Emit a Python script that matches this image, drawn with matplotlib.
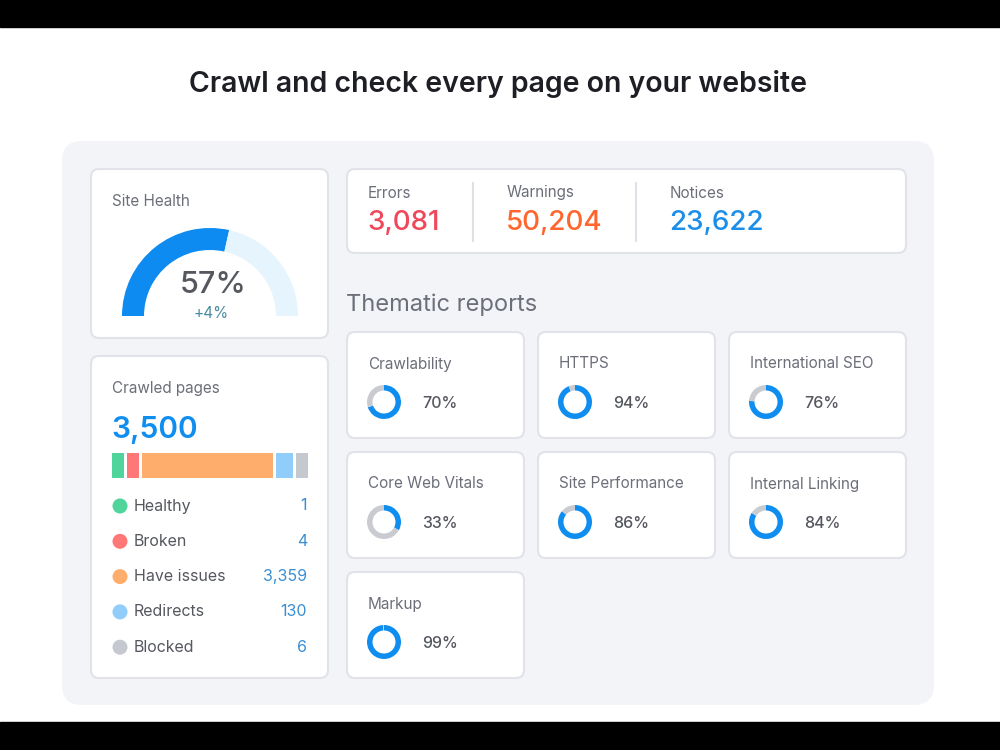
import matplotlib
matplotlib.use('Agg')
import matplotlib.pyplot as plt
from matplotlib.patches import FancyBboxPatch, Wedge, Rectangle, Circle
import numpy as np

plt.rcParams['font.family'] = ['Inter', 'DejaVu Sans']

# data
title = 'Crawl and check every page on your website'
site_health = 57
health_change = '+4%'
issue_labels = ['Errors', 'Warnings', 'Notices']
issue_values = [3081, 50204, 23622]
crawled_total = 3500
page_labels = ['Healthy', 'Broken', 'Have issues', 'Redirects', 'Blocked']
page_values = [1, 4, 3359, 130, 6]
report_names = ['Crawlability', 'HTTPS', 'International SEO',
                'Core Web Vitals', 'Site Performance', 'Internal Linking',
                'Markup']
report_scores = [70, 94, 76, 33, 86, 84, 99]

# styles
issue_colors = ['#f0475a', '#ff662e', '#1a8ee9']
page_colors = ['#4fd49b', '#ff7878', '#ffad6c', '#90cdfb', '#c6c8d0']
BLUE = '#0f8ef0'
TXT = '#6c6f79'
DARK = '#55585f'
BORDER = '#e1e3e9'

fig = plt.figure(figsize=(10, 7.5), dpi=100)
ax = fig.add_axes([0, 0, 1, 1])
ax.set_xlim(0, 1000)
ax.set_ylim(750, 0)
ax.axis('off')

# black bands and white page
ax.add_patch(Rectangle((0, 0), 1000, 27, color='black'))
ax.add_patch(Rectangle((0, 722), 1000, 28, color='black'))

ax.text(498, 84, title, ha='center', va='center', fontsize=20.5,
        fontweight='semibold', color='#1d1f24')

# gray panel
ax.add_patch(FancyBboxPatch((62, 141), 872, 564, boxstyle='round,pad=0,rounding_size=20',
                            fc='#f3f4f8', ec='none'))


def card(x, y, w, h):
    ax.add_patch(FancyBboxPatch((x, y), w, h, boxstyle='round,pad=0,rounding_size=8',
                                fc='white', ec=BORDER, lw=1.5))


# site health card
card(91, 169, 237, 169)
ax.text(112, 201, 'Site Health', fontsize=11, color=TXT, va='center')
cx, cy, r = 210, 316, 88
ang = 180 + site_health / 100 * 180
ax.add_patch(Wedge((cx, cy), r, 180, ang, width=22, fc='#0d8bf0', ec='none'))
ax.add_patch(Wedge((cx, cy), r, ang, 360, width=22, fc='#e6f4fe', ec='none'))
ax.text(213, 285, f'{site_health}%', ha='center', va='center', fontsize=22,
        fontweight='medium', color=DARK)
ax.text(211, 313, health_change, ha='center', va='center', fontsize=11,
        color='#4a8ca0')

# crawled pages card
card(91, 356, 237, 322)
ax.text(112, 389, 'Crawled pages', fontsize=11, color=TXT, va='center')
ax.text(111, 430, f'{crawled_total:,}', fontsize=21.5, fontweight='semibold',
        color='#0f8ef0', va='center')
bar_x0, bar_x1, gap, min_w = 112, 308, 3, 12
total = sum(page_values)
free = (bar_x1 - bar_x0) - gap * (len(page_values) - 1) - min_w * len(page_values)
x = bar_x0
for v, c in zip(page_values, page_colors):
    w = min_w + free * v / total
    ax.add_patch(Rectangle((x, 453), w, 25, fc=c, ec='none'))
    x += w + gap
for i, (lab, v, c) in enumerate(zip(page_labels, page_values, page_colors)):
    yy = 506 + i * 35.3
    ax.add_patch(Circle((120, yy), 7.5, fc=c, ec='none'))
    ax.text(134, yy, lab, fontsize=11.5, color=DARK, va='center')
    ax.text(307, yy, f'{v:,}', fontsize=11.5, color='#3a8fd3', va='center', ha='right')

# issues card
card(347, 169, 559, 84)
for i, (lab, v, c, xx) in enumerate(zip(issue_labels, issue_values, issue_colors,
                                          [368, 507, 670])):
    ax.text(xx, 193, lab, fontsize=11, color=TXT, va='center')
    ax.text(xx - 1, 223, f'{v:,}', fontsize=20, color=c, va='center',
            fontweight='medium')
for sx in [473, 636]:
    ax.plot([sx, sx], [183, 241], color='#dfe1e6', lw=1.5)

ax.text(346, 305, 'Thematic reports', fontsize=17, color=TXT, va='center')

# thematic report cards
cols = [347, 538, 729]
rows = [332, 452, 572]
for i, (name, s) in enumerate(zip(report_names, report_scores)):
    x0 = cols[i % 3]
    y0 = rows[i // 3]
    card(x0, y0, 177, 106)
    ax.text(x0 + 21, y0 + 32, name, fontsize=11, color=TXT, va='center')
    dx, dy = x0 + 37, y0 + 70
    a = 270 + s / 100 * 360
    ax.add_patch(Wedge((dx, dy), 17, 270, a, width=5.5, fc=BLUE, ec='none'))
    if s < 100:
        ax.add_patch(Wedge((dx, dy), 17, a, 270 + 360, width=5.5, fc='#c9cbd1', ec='none'))
    ax.text(x0 + 75, dy + 1, f'{s}%', fontsize=11.5, color=DARK, va='center',
            fontweight='medium')

fig.savefig('out.png', dpi=100, facecolor='white')
